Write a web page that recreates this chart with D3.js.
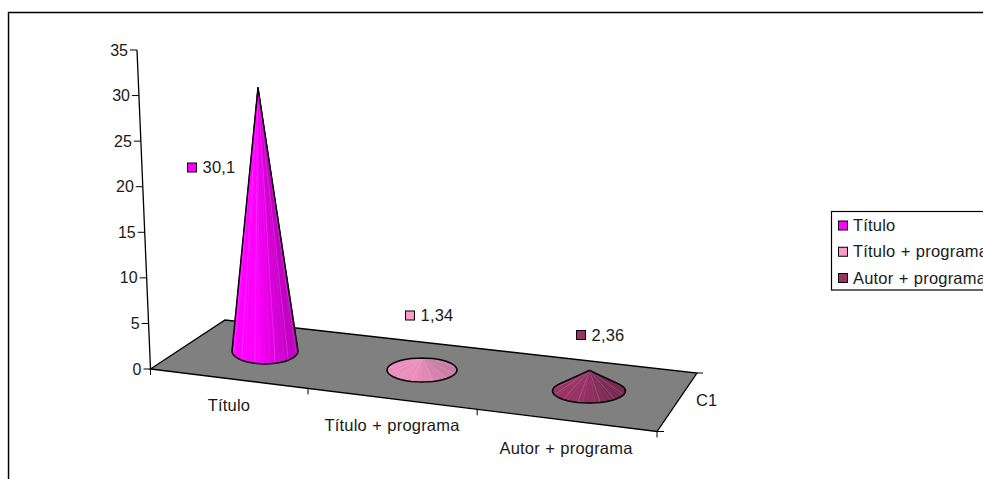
<!DOCTYPE html>
<html><head><meta charset="utf-8">
<script src="https://cdn.jsdelivr.net/npm/d3@7"></script>
<style>html,body{margin:0;background:#fff;overflow:hidden}svg{display:block}text{font-family:"Liberation Sans",Arial,sans-serif;font-size:16.5px;letter-spacing:.2px;word-spacing:.5px;fill:#1a1a1a}</style>
</head><body><svg id="c" width="983" height="479"></svg>
<script>
const categories = ["Título", "Título + programa", "Autor + programa"];
const values = [30.1, 1.34, 2.36];
const valueLabels = ["30,1", "1,34", "2,36"];
const colors = ["#ff00ff", "#ff99cc", "#993366"];
const yTicks = [0, 5, 10, 15, 20, 25, 30, 35];
const seriesName = "C1";

const svg = d3.select("#c");
// frame
svg.append("path").attr("d","M8.5,479V12.5H983").attr("fill","none").attr("stroke","#000").attr("stroke-width",1.4);
svg.append("path").attr("d","M9.5,479V13.5H983").attr("fill","none").attr("stroke","#bbb").attr("stroke-width",1);

// value axis (slanted with the 3D projection)
const yScale = d3.scaleLinear().domain([0,35]).range([369,50]);
const xLean = d3.scaleLinear().domain([0,35]).range([150.5,137]);
const axis = svg.append("g");
axis.append("line").attr("x1",xLean(0)).attr("y1",yScale(0)).attr("x2",xLean(35)).attr("y2",yScale(35)).attr("stroke","#000").attr("stroke-width",1.3);
yTicks.forEach(t=>{
  axis.append("line").attr("x1",xLean(t)-7).attr("x2",xLean(t)).attr("y1",yScale(t)).attr("y2",yScale(t)).attr("stroke","#000");
  axis.append("text").attr("x",xLean(t)-9).attr("y",yScale(t)+5.5).attr("text-anchor","end").style("font-size","16px").style("letter-spacing","0").text(t);
});

// floor
const floor = [[150.5,369],[225,320],[697,373],[657,431.5]];
svg.append("polygon").attr("points",floor.join(" ")).attr("fill","#808080").attr("stroke","#000").attr("stroke-width",1.3);
// ticks on floor edges
const frontX = d3.scaleLinear().domain([0,1]).range([150.5,657]);
const frontY = d3.scaleLinear().domain([0,1]).range([369,431.5]);
const catEdge = d3.scaleLinear().domain([0,1,2,3]).range([0,0.311,0.645,1]);
d3.range(4).forEach(i=>{
  const p=catEdge(i), x=frontX(p), y=frontY(p);
  svg.append("line").attr("x1",x).attr("x2",x).attr("y1",y).attr("y2",y+6).attr("stroke","#000");
});
svg.append("line").attr("x1",657).attr("x2",664).attr("y1",431.5).attr("y2",431.5).attr("stroke","#000");
svg.append("line").attr("x1",697).attr("x2",703).attr("y1",373).attr("y2",373).attr("stroke","#000");

// category labels
const labelX = d3.scaleLinear().domain([0,1,2]).range([229,392,566]);
const labelY = d3.scaleLinear().domain([0,1,2]).range([411,431,454]);
categories.forEach((c,i)=>svg.append("text").attr("x",labelX(i)).attr("y",labelY(i)).attr("text-anchor","middle").text(c));
svg.append("text").attr("x",696).attr("y",406).text(seriesName);

// cones
const cx = d3.scaleLinear().domain([0,1,2]).range([265,422,589]);
const cy = d3.scaleLinear().domain([0,1,2]).range([351,370,391]);
const rx = d3.scaleLinear().domain([0,1,2]).range([33,35,36.5]);
const ry = d3.scaleLinear().domain([0,1,2]).range([13,12,12]);
const h = d3.scaleLinear().domain([0,35]).range([0,306]);
const lean = d3.scaleLinear().domain([0,30.1]).range([0,-7]);
const shadeHi = [1, 0.93, 1];
const shadeLo = [0.72, 0.8, 0.78];
const N = 40;
values.forEach((v,i)=>{
  const c = d3.rgb(colors[i]);
  const g = svg.append("g");
  const apex=[cx(i)+lean(v)+(i==0?0:1), cy(i)-h(v)];
  const pt=a=>[cx(i)+rx(i)*Math.cos(a), cy(i)+ry(i)*Math.sin(a)];
  const shade=d3.scaleLinear().domain([-1,-0.3,1]).range([shadeHi[i],shadeHi[i],shadeLo[i]]);
  const facets=d3.range(N).map(k=>{
    const a0=k/N*2*Math.PI, a1=(k+1)/N*2*Math.PI;
    return {a0,a1,mid:(a0+a1)/2};
  }).sort((p,q)=>Math.sin(p.mid)-Math.sin(q.mid));
  facets.forEach(f=>{
    const s=shade(Math.cos(f.mid));
    const base=d3.rgb(c.r*s,c.g*s,c.b*s);
    const pts=[apex,pt(f.a0),pt(f.a1)];
    const seam=Math.round(f.mid/(2*Math.PI)*N)%3===0;
    g.append("polygon").attr("points",pts.join(" ")).attr("fill",base.formatHex())
      .attr("stroke", seam? d3.interpolateRgb(base,"#fff")(0.3) : base.formatHex()).attr("stroke-width",0.5);
  });
  const ring=d3.range(N).map(k=>pt(k/N*2*Math.PI));
  const hull=d3.polygonHull(ring.concat([apex]));
  g.append("polygon").attr("points",hull.join(" ")).attr("fill","none").attr("stroke","#000").attr("stroke-width",1.5).attr("stroke-linejoin","round");
});

// data labels
const dlX = d3.scaleLinear().domain([0,1,2]).range([187.5,405.5,576.5]);
const dlY = d3.scaleLinear().domain([0,1,2]).range([163,311,330.5]);
values.forEach((v,i)=>{
  svg.append("rect").attr("x",dlX(i)).attr("y",dlY(i)).attr("width",9).attr("height",9).attr("fill",colors[i]).attr("stroke","#000");
  svg.append("text").attr("x",dlX(i)+15).attr("y",dlY(i)+10).text(valueLabels[i]);
});

// legend
svg.append("rect").attr("x",831.5).attr("y",211.5).attr("width",170).attr("height",78.5).attr("fill","#fff").attr("stroke","#000").attr("stroke-width",1.2);
const legendY = d3.scalePoint().domain(categories).range([221,273.5]);
categories.forEach((c,i)=>{
  svg.append("rect").attr("x",838.5).attr("y",legendY(c)).attr("width",9).attr("height",9).attr("fill",colors[i]).attr("stroke","#000");
  svg.append("text").attr("x",853).attr("y",legendY(c)+10).text(c);
});
</script></body></html>
